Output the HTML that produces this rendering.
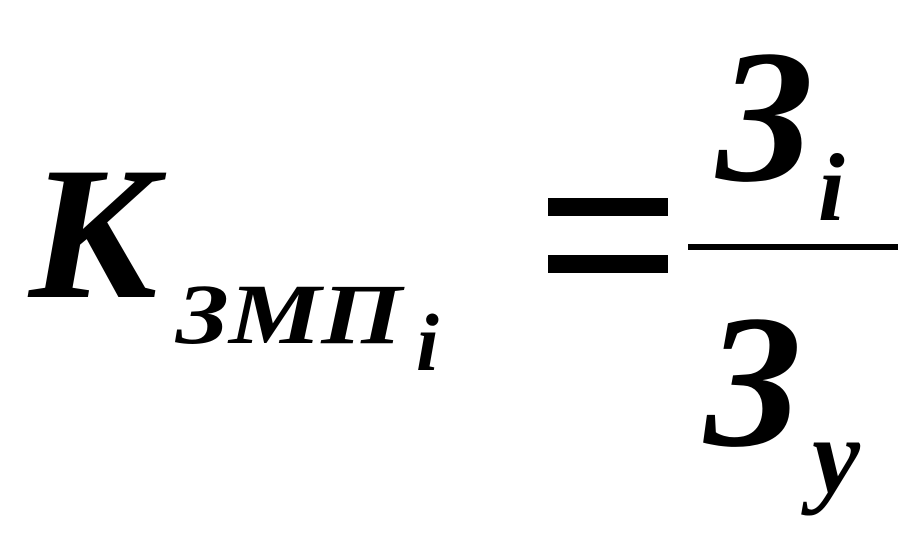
<!DOCTYPE html>
<html><head><meta charset="utf-8"><style>
html,body{margin:0;padding:0;background:#fff;}
svg{display:block;}
text{font-family:"Liberation Serif",serif;font-weight:bold;font-style:italic;fill:#000;}
</style></head><body>
<svg width="921" height="543" viewBox="0 0 921 543" xmlns="http://www.w3.org/2000/svg">
<text x="29" y="297" font-size="190">К</text>
<text x="176" y="343" font-size="86" textLength="226" lengthAdjust="spacingAndGlyphs">ЗМП</text>
<text x="416" y="370" font-size="82">i</text>
<rect x="548" y="198" width="120" height="18"/>
<rect x="548" y="255" width="120" height="18"/>
<rect x="688" y="244" width="210" height="6"/>
<text x="717" y="180" font-size="190">З</text>
<text x="818" y="220" font-size="96">i</text>
<text x="705" y="445" font-size="190">З</text>
<text x="812" y="492" font-size="108">y</text>
</svg>
</body></html>
